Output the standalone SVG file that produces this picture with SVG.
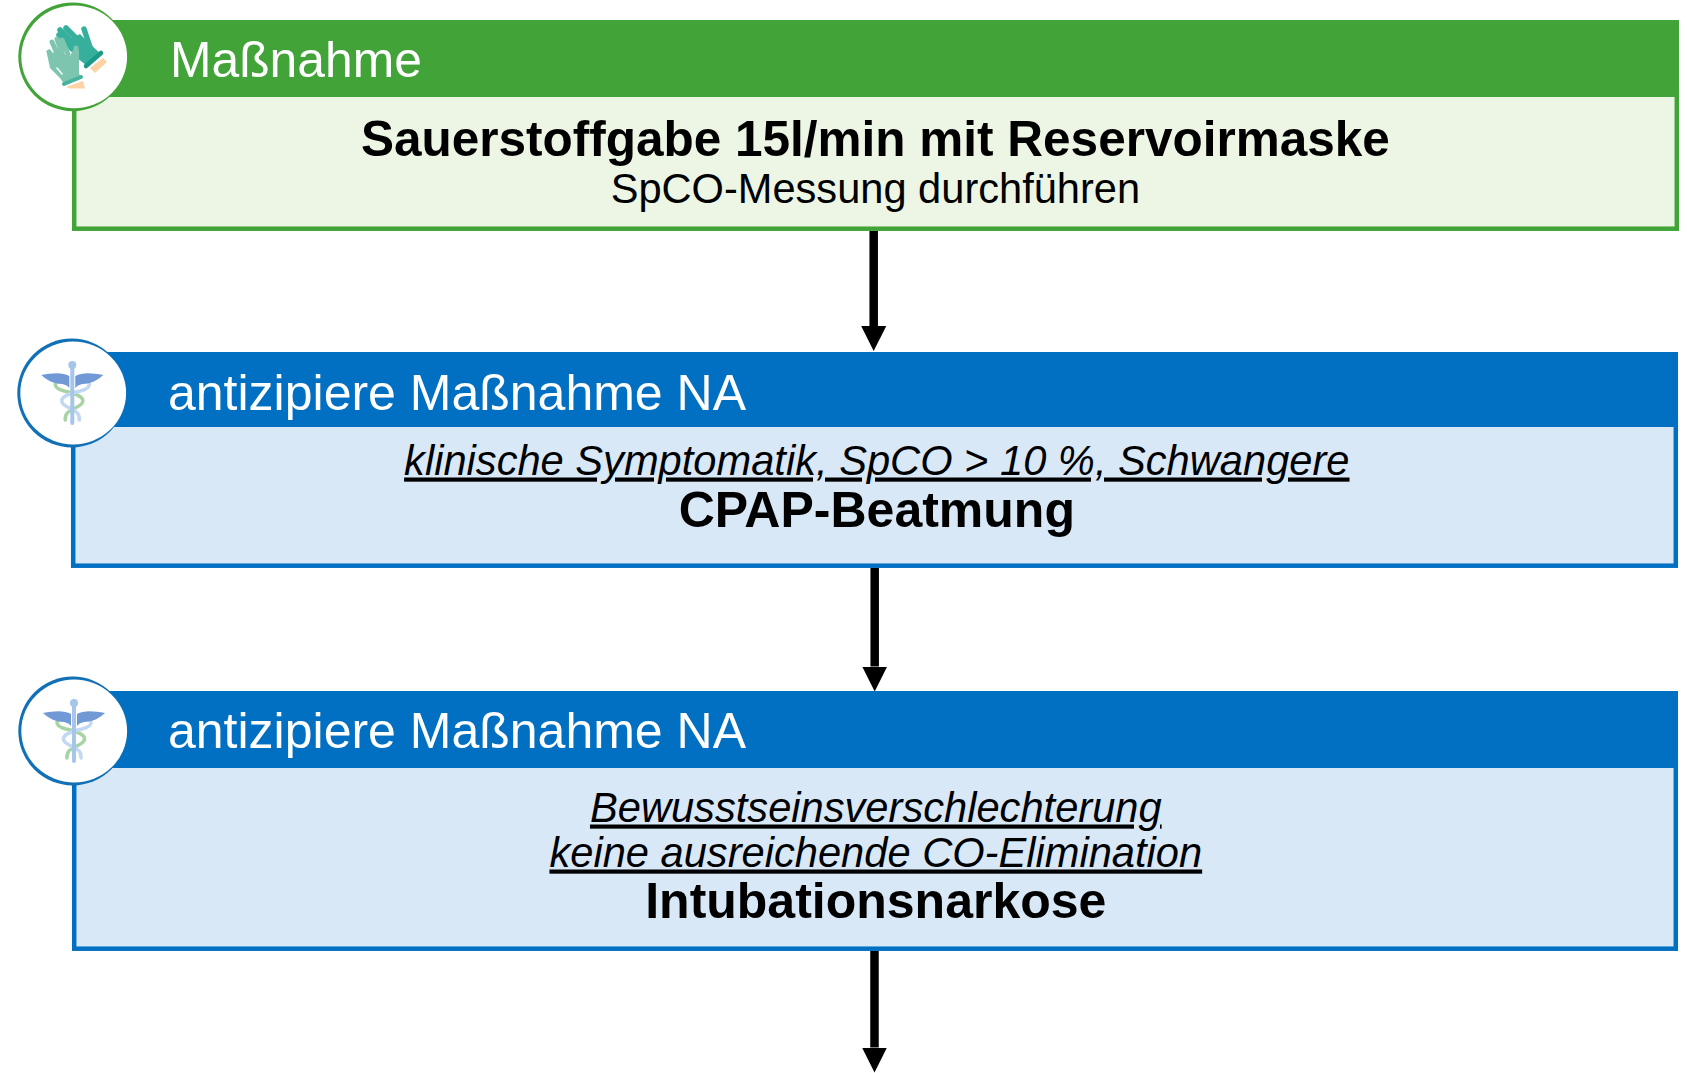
<svg xmlns="http://www.w3.org/2000/svg" width="1687" height="1073" viewBox="0 0 1687 1073">
<style>
text{font-family:"Liberation Sans",Arial,sans-serif;text-anchor:middle;fill:#000}
.h{font-size:50px;fill:#fff;text-anchor:start}
.b{font-size:50px;font-weight:bold}
.n{font-size:41.6px}
.u{font-size:41.65px;font-style:italic;text-decoration:underline;text-decoration-skip-ink:none;text-decoration-thickness:2px}
.gh{fill:#42a438}.gb{fill:#edf6e5;stroke:#42a438;stroke-width:4.5}
.bh{fill:#0170c2}.bb{fill:#d9e8f6;stroke:#0170c2;stroke-width:4.5}
.rg{fill:#42a438}.rb{fill:#1270b6}.w{fill:#fff}
.conn{stroke:#000;stroke-width:8.5;fill:none}
.f{fill:none;stroke-linecap:round;stroke-linejoin:round}
</style>
<defs>
<marker id="a" markerUnits="userSpaceOnUse" markerWidth="26" markerHeight="26" refX="0" refY="12.500" orient="auto"><path d="M0 0L25 12.500L0 25Z" fill="#000"/></marker>
<g id="cad">
<path class="f" d="M-8-9C-20-10-20-2-8 1C10 5 14 10 8 15C2 20-8 20-7 30" stroke="#a8d3a5" stroke-width="3.5"/>
<path class="f" d="M8-9C20-10 20-2 8 1C-10 5-14 10-8 15C-2 20 8 20 7 30" stroke="#c2d8f2" stroke-width="3.5"/>
<path class="f" d="M0-25V33" stroke="#a5c5ea" stroke-width="4"/>
<circle cx="0" cy="-25" r="4" fill="#a5c5ea"/>
<path d="M-3-14C-10-18-20-17-31-15C-26-10-18-6-10-6Q-5-5-3-2Z" fill="#7199d6"/>
<path d="M3-14C10-18 20-17 31-15C26-10 18-6 10-6Q5-5 3-2Z" fill="#7199d6"/>
</g>
</defs>
<g id="connectors">
<path class="conn" d="M873.700 231V326" marker-end="url(#a)"/>
<path class="conn" d="M874.700 568V666.500" marker-end="url(#a)"/>
<path class="conn" d="M874.500 951V1047.500" marker-end="url(#a)"/>
</g>
<g id="node-1">
<rect class="gb" x="74.200" y="90" width="1602.600" height="138.700"/>
<rect class="gh" x="72" y="20" width="1607" height="77"/>
<circle class="rg" cx="72.700" cy="56.800" r="54.400"/>
<ellipse class="w" cx="74.200" cy="56.800" rx="52.900" ry="51.400"/>
<g>
<path class="f" d="M60 30L74 44M66 28L79 41M59 35L72 49M84 29L90 47" stroke="#36b09c" stroke-width="5.500"/>
<path d="M68 40L80 34L90 44L101 54L86 65L77 58Z" fill="#36b09c"/>
<path class="f" d="M101 53L86 66" stroke="#189a87" stroke-width="4.500"/>
<path d="M103 58L107 62L95 73L90 68Z" fill="#fdd3a5"/>
<path class="f" d="M49 52L56 62M52 42L59 58M57 39L63 56M62 40L68 54M76 48V62" stroke="#7ec5b0" stroke-width="5"/>
<path d="M47 54L56 52L70 56L73 50H79V74L82 77L64 84L60 78L50 68Z" fill="#7ec5b0"/>
<path class="f" d="M64 84L81 77" stroke="#45b39e" stroke-width="4"/>
<path d="M66 87L83 81L85 88.500H70Z" fill="#fdd3a5"/>
<path class="f" d="M57 68L62 74" stroke="#fff" stroke-width="1.500"/>
</g>
<text class="h" style="font-size:49.8px" x="170" y="77">Maßnahme</text>
<text class="b" style="font-size:49.5px" x="875.400" y="156">Sauerstoffgabe 15l/min mit Reservoirmaske</text>
<text class="n" x="875.400" y="203">SpCO-Messung durchführen</text>
</g>
<g id="node-2">
<rect class="bb" x="73.200" y="420" width="1602.600" height="145.700"/>
<rect class="bh" x="71" y="352" width="1607" height="75"/>
<circle class="rb" cx="71.700" cy="393" r="54.400"/>
<ellipse class="w" cx="73.200" cy="393" rx="52.900" ry="51.400"/>
<use href="#cad" x="72.300" y="390"/>
<text class="h" x="168" y="410">antizipiere Maßnahme NA</text>
<text class="u" x="876.800" y="474.500">klinische Symptomatik, SpCO &gt; 10 %, Schwangere</text>
<text class="b" x="876.800" y="526.500">CPAP-Beatmung</text>
</g>
<g id="node-3">
<rect class="bb" x="74.200" y="760" width="1601.600" height="188.700"/>
<rect class="bh" x="72" y="691" width="1606" height="77"/>
<circle class="rb" cx="72.700" cy="731" r="54.400"/>
<ellipse class="w" cx="74.200" cy="731" rx="52.900" ry="51.400"/>
<use href="#cad" x="74" y="728"/>
<text class="h" x="168" y="748">antizipiere Maßnahme NA</text>
<text class="u" x="875.800" y="821.500">Bewusstseinsverschlechterung</text>
<text class="u" x="875.800" y="866.500">keine ausreichende CO-Elimination</text>
<text class="b" x="875.800" y="918">Intubationsnarkose</text>
</g>
</svg>
